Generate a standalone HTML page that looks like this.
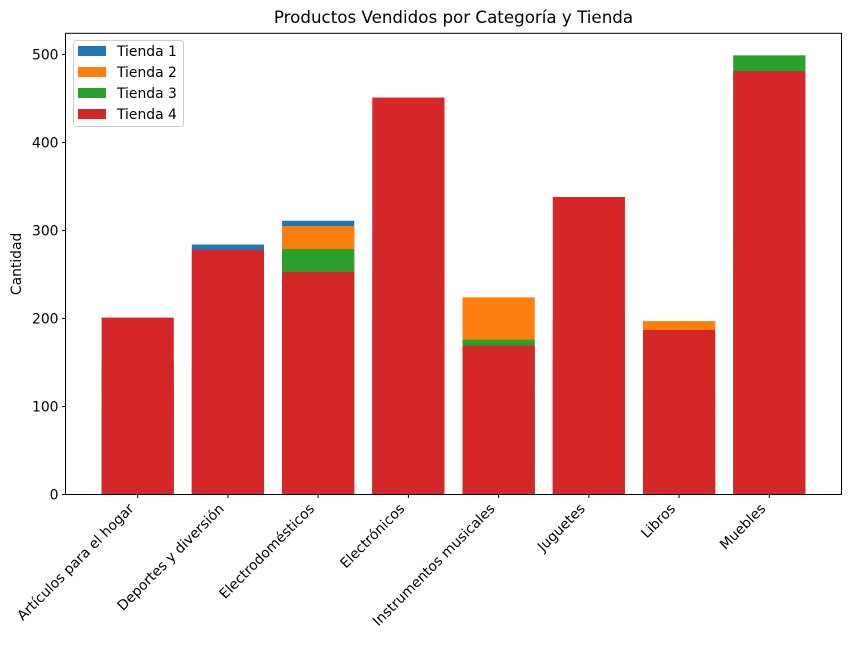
<!DOCTYPE html>
<html><head><meta charset="utf-8"><style>
body{margin:0;background:#fff;}
text{font-family:"DejaVu Sans","Liberation Sans",sans-serif;}
</style></head><body>
<svg id="chart" width="850" height="641" xmlns="http://www.w3.org/2000/svg">
<g id="bars"></g>
<g id="axes"></g>
</svg>
<script>
const categories = ["Artículos para el hogar","Deportes y diversión","Electrodomésticos","Electrónicos","Instrumentos musicales","Juguetes","Libros","Muebles"];
const series = ["Tienda 1","Tienda 2","Tienda 3","Tienda 4"];
const colors = ["#1f77b4","#ff7f0e","#2ca02c","#d62728"];
const tienda1 = [150, 284, 311, 300, 120, 200, 100, 300];
const tienda2 = [120, 200, 305, 250, 224, 180, 197, 250];
const tienda3 = [100, 150, 279, 200, 176, 150, 120, 499];
const tienda4 = [201, 278, 253, 451, 169, 338, 187, 481];
const yTicks = [0,100,200,300,400,500];
const values = [tienda1, tienda2, tienda3, tienda4];

const L=65.5, R=841.5, T=33.3, B=494.5;
const xmin=-0.8, xmax=7.8, ymin=0, ymax=524;
const xs = v => L + (v - xmin) / (xmax - xmin) * (R - L);
const ys = v => B - (v - ymin) / (ymax - ymin) * (B - T);
const NS="http://www.w3.org/2000/svg";
function mk(tag, attrs, parent){const e=document.createElementNS(NS,tag);for(const k in attrs)e.setAttribute(k,attrs[k]);parent.appendChild(e);return e;}
const bars=document.getElementById('bars'), axes=document.getElementById('axes');
const bw = 0.8;
values.forEach((arr, si) => {
  arr.forEach((v, i) => {
    const r = mk('rect', {x: xs(i - bw/2), y: ys(v), width: xs(i + bw/2) - xs(i - bw/2), height: ys(0) - ys(v), fill: colors[si]}, bars);
    
    
  });
});
const frame = mk('rect', {x:L, y:T, width:R-L, height:B-T, fill:'none', stroke:'#000', 'stroke-width':1}, axes);


yTicks.forEach(t => {
  const y = ys(t);
  mk('line',{x1:L-3.5,x2:L,y1:y,y2:y,stroke:'#000'},axes);
  const tx = mk('text',{x:L-7,y:y+5,'text-anchor':'end','font-size':13.9},axes);
  tx.textContent = t;
  
  
});
categories.forEach((c, i) => {
  const x = xs(i);
  mk('line',{x1:x,x2:x,y1:B,y2:B+3.5,stroke:'#000'},axes);
  const ax = x-3, ay = B+15;
  const tx = mk('text',{x:ax,y:ay,'text-anchor':'end','font-size':13.9,transform:`rotate(-45 ${ax} ${ay})`},axes);
  tx.textContent = c;
  
  
});
const title = mk('text',{x:(L+R)/2,y:23,'text-anchor':'middle','font-size':16.7},axes);
title.textContent = 'Productos Vendidos por Categoría y Tienda';


const yl = mk('text',{x:21,y:(T+B)/2,'text-anchor':'middle','font-size':13.9,transform:`rotate(-90 21 ${(T+B)/2})`},axes);
yl.textContent = 'Cantidad';


const lg = mk('g',{},axes);


mk('rect',{x:73.5,y:40.5,width:110,height:86,rx:3,fill:'#fff','fill-opacity':0.8,stroke:'#ccc'},lg);
series.forEach((s, i) => {
  const y = 46 + i*21;
  mk('rect',{x:78,y:y,width:28,height:10,fill:colors[i]},lg);
  const tx = mk('text',{x:117,y:y+10,'font-size':13.9},lg);
  tx.textContent = s;
  
  
});
</script>
</body></html>
